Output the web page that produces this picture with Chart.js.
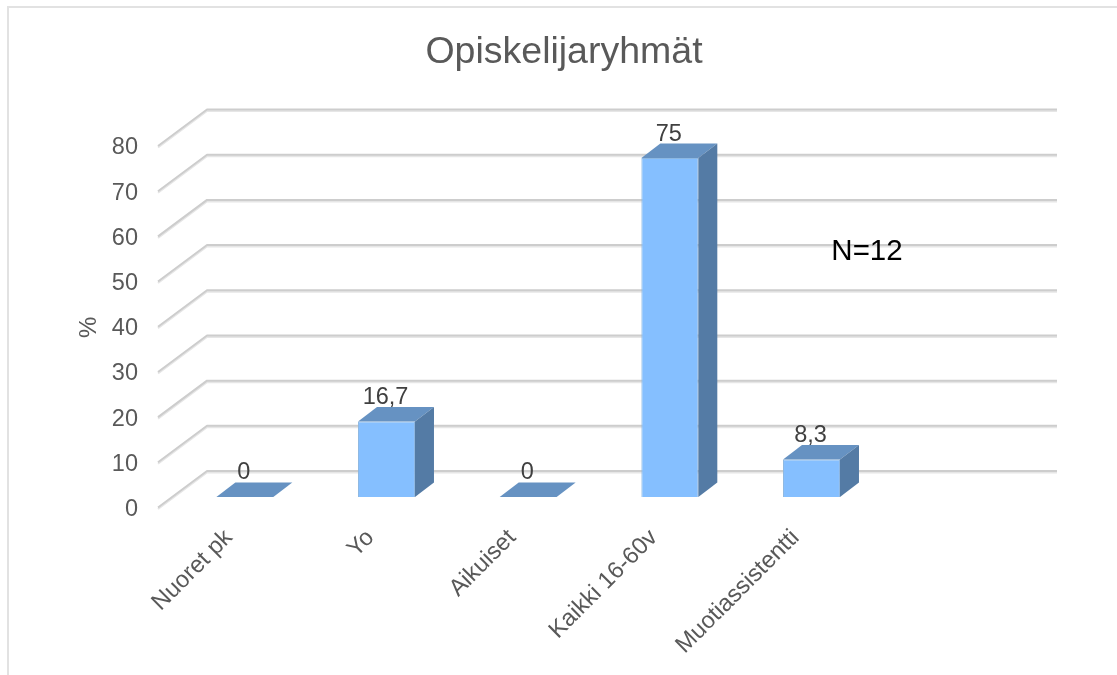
<!DOCTYPE html>
<html><head><meta charset="utf-8">
<style>html,body{margin:0;padding:0;background:#fff}#w{width:1117px;height:675px;position:relative}</style>
<script src="https://cdn.jsdelivr.net/npm/chart.js@4"></script>
</head><body><div id="w"><canvas id="c" width="1117" height="675"></canvas></div>
<script>
const categories = ['Nuoret pk','Yo','Aikuiset','Kaikki 16-60v','Muotiassistentti',''];
const percentValues = [0,16.7,0,75,8.3,null];
const valueLabels = ['0','16,7','0','75','8,3',''];
const chartTitle = 'Opiskelijaryhmät';
const axisTitle = '%';
const note = 'N=12';
const FONT = '"Liberation Sans", Arial, sans-serif';
const WALL = {dx:49, dy:-36.5};
const BAR_SHIFT = {dx:16, dy:-11};
const BAR_DEPTH = {dx:19, dy:-14.5};

const scene = {
  id:'scene',
  beforeDraw(chart){
    const {ctx, scales:{x,y}} = chart;
    ctx.save();
    ctx.strokeStyle='#e2e2e2'; ctx.lineWidth=2;
    ctx.beginPath(); ctx.moveTo(8,675); ctx.lineTo(8,7); ctx.lineTo(1117,7); ctx.stroke();
    ctx.lineJoin='round';
    y.ticks.forEach(t=>{
      const py=y.getPixelForValue(t.value);
      const path=(o)=>{ctx.beginPath();ctx.moveTo(x.left,py+o);ctx.lineTo(x.left+WALL.dx,py+WALL.dy+o);ctx.lineTo(x.right+WALL.dx,py+WALL.dy+o);};
      ctx.strokeStyle='#e6e6e6'; ctx.lineWidth=2; path(1); ctx.stroke();
      ctx.strokeStyle='#cdcdcd'; ctx.lineWidth=2; path(-0.5); ctx.stroke();
    });
    ctx.restore();
  },
  beforeDatasetDraw(chart){
    const ctx=chart.ctx; ctx.save(); ctx.translate(BAR_SHIFT.dx,BAR_SHIFT.dy);
  },
  afterDatasetDraw(chart){
    const ctx=chart.ctx;
    chart.getDatasetMeta(0).data.forEach((b,i)=>{
      if(percentValues[i]===null) return;
      const l=b.x-b.width/2, r=b.x+b.width/2, t=b.y, bt=b.base, d=BAR_DEPTH;
      ctx.fillStyle='#6692c2';
      ctx.beginPath();ctx.moveTo(l,t);ctx.lineTo(l+d.dx,t+d.dy);ctx.lineTo(r+d.dx,t+d.dy);ctx.lineTo(r,t);ctx.closePath();ctx.fill();
      if(bt>t){
        ctx.fillStyle='#547ba5';
        ctx.beginPath();ctx.moveTo(r,t);ctx.lineTo(r+d.dx,t+d.dy);ctx.lineTo(r+d.dx,bt+d.dy);ctx.lineTo(r,bt);ctx.closePath();ctx.fill();
      }
    });
    ctx.restore();
  },
  afterDraw(chart){
    const {ctx}=chart;
    ctx.save();
    ctx.textAlign='center'; ctx.textBaseline='middle';
    ctx.font='23.5px '+FONT; ctx.fillStyle='#404040';
    chart.getDatasetMeta(0).data.forEach((b,i)=>{
      if(valueLabels[i]) ctx.fillText(valueLabels[i], b.x+BAR_SHIFT.dx-1, b.y+BAR_SHIFT.dy-24);
    });
    ctx.font='29.5px '+FONT; ctx.fillStyle='#000';
    ctx.fillText(note,867,252);
    ctx.restore();
  }
};

new Chart(document.getElementById('c'),{
  type:'bar',
  data:{labels:categories,datasets:[{data:percentValues,backgroundColor:'#85bfff',borderColor:'#8db8e2',borderWidth:1,barPercentage:0.402,categoryPercentage:1}]},
  options:{
    responsive:false,animation:false,
    layout:{padding:{left:11,right:0,top:0,bottom:0}},
    plugins:{
      legend:{display:false},tooltip:{enabled:false},
      title:{display:true,text:chartTitle,color:'#595959',font:{family:FONT,size:37.5,weight:'normal'},padding:{top:30,bottom:71.5}}
    },
    scales:{
      x:{grid:{display:false},border:{display:false},
        ticks:{minRotation:45,maxRotation:45,autoSkip:false,padding:8,labelOffset:0,color:'#595959',font:{family:FONT,size:23.7}},
        afterFit(s){s.height=167;}},
      y:{min:0,max:80,grid:{display:false},border:{display:false},
        ticks:{stepSize:10,padding:12,labelOffset:1.5,color:'#595959',font:{family:FONT,size:23.5}},
        title:{display:true,text:axisTitle,color:'#595959',font:{family:FONT,size:24},padding:{top:64,bottom:0}},
        afterFit(s){s.width=147;}},
      yR:{position:'right',min:0,max:80,grid:{display:false},border:{display:false},ticks:{display:false},
        afterFit(s){s.width=109;}}
    }
  },
  plugins:[scene]
});
</script></body></html>
